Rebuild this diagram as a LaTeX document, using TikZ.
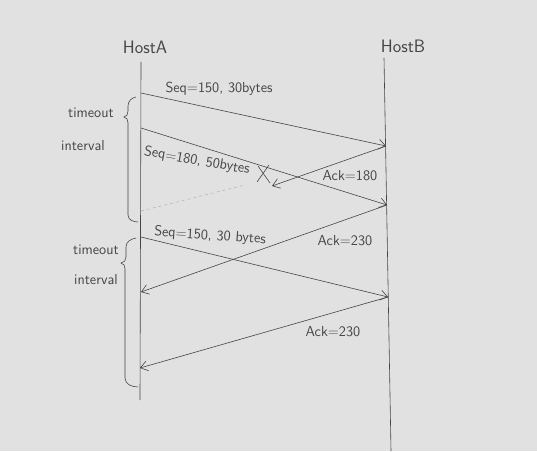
\documentclass[tikz,border=0pt]{standalone}
\usepackage{amsmath, amssymb, tikz}
\usetikzlibrary{arrows.meta}
\definecolor{paper}{HTML}{E1E1E1}
\definecolor{pencil}{HTML}{454545}
\definecolor{faint}{HTML}{B4B4B4}

\begin{document}
\begin{tikzpicture}
            [x=1pt, y=-1pt, ->, >={Straight Barb[length=7pt,width=10pt]}, semithick, draw=pencil,
             font=\sffamily\fontsize{14.5}{17}\selectfont, text=pencil]
            \fill[paper] (0,0) rectangle (537,451);

            \node[font=\sffamily\fontsize{18}{20}\selectfont] (hostA) at (145,47) {HostA};
            \node[font=\sffamily\fontsize{18}{20}\selectfont] (hostB) at (403,46) {HostB};
            \coordinate (topA) at (141,62);
            \coordinate (botA) at (140,400);
            \coordinate (topB) at (384,58);
            \coordinate (botB) at (391,451);
            \draw[-] (topA) -- (botA);
            \draw[-] (topB) -- (botB);

            \coordinate (a1) at (141,93);
            \coordinate (a2) at (141,128);
            \coordinate (a3) at (141,211);
            \coordinate (a4) at (141,237);
            \coordinate (a5) at (141,292);
            \coordinate (a6) at (140,368);
            \coordinate (b1) at (386,146);
            \coordinate (b2) at (387,205);
            \coordinate (b3) at (388,297);
            \coordinate (lost) at (272,186);
            \coordinate (dashend) at (245,185);

            \path [->] (a1) edge (b1);
            \path [->] (a2) edge (b2);
            \path [->] (b1) edge (lost);
            \path [->] (b2) edge (a5);
            \path [->] (a4) edge (b3);
            \path [->] (b3) edge (a6);
            \path [-, dashed, draw=faint] (a3) edge (dashend);
            \draw[-] (258,166) -- (270,183) (269,165) -- (257,182);

            \node (seq1) at (219,89) {Seq=150, 30bytes};
            \node[rotate=-10] (seq2) at (197,161) {Seq=180, 50bytes};
            \node (ack1) at (350,176) {Ack=180};
            \node[rotate=-4] (seq3) at (210,236) {Seq=150, 30 bytes};
            \node (ack2) at (345,241) {Ack=230};
            \node (ack3) at (333,332) {Ack=230};

            \draw[-] (136,97) to[out=190,in=90] (128,106) -- (128,111) to[out=-90,in=0] (124,117)
                     to[out=0,in=90] (128,123) -- (128,215) to[out=-90,in=180] (138,222);
            \node (tmo1) at (91,113) {timeout};
            \node (int1) at (83,146) {interval};
            \draw[-] (136,238) to[out=190,in=90] (126,247) -- (126,257) to[out=-90,in=0] (121,263)
                     to[out=0,in=90] (125,269) -- (125,378) to[out=-90,in=180] (138,387);
            \node (tmo2) at (96,250) {timeout};
            \node (int2) at (96,280) {interval};
        \end{tikzpicture}
\end{document}
